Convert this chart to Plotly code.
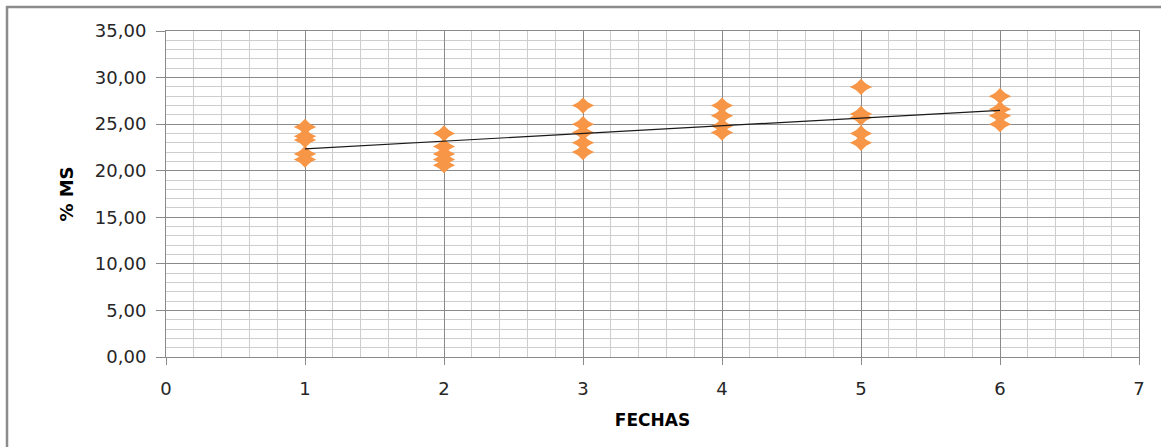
import numpy as np
import plotly.graph_objects as go

# sampled values (% MS) per fecha
fechas = [1, 1, 1, 1, 1,
          2, 2, 2, 2, 2,
          3, 3, 3, 3, 3,
          4, 4, 4, 4,
          5, 5, 5, 5, 5,
          6, 6, 6, 6]
ms_values = [24.7, 23.7, 23.3, 21.8, 21.2,
             24.0, 22.6, 21.8, 21.2, 20.6,
             27.0, 25.0, 24.1, 23.0, 22.0,
             27.0, 25.9, 24.8, 24.1,
             29.0, 26.1, 25.7, 24.0, 23.0,
             28.0, 26.6, 25.9, 25.0]

y_ticks = [0, 5, 10, 15, 20, 25, 30, 35]
x_ticks = [0, 1, 2, 3, 4, 5, 6, 7]

# linear trendline (Excel style), drawn over the data span
slope, intercept = np.polyfit(fechas, ms_values, 1)
trend_x = [min(fechas), max(fechas)]
trend_y = [slope * x + intercept for x in trend_x]

fig = go.Figure()

# Excel's diamond is wider than tall: overlay a wide and a square diamond
for sym, sz in [('diamond-wide', 16), ('diamond', 12.5)]:
    fig.add_trace(go.Scatter(
        x=fechas, y=ms_values, mode='markers',
        marker=dict(symbol=sym, size=sz, color='#F79646', line=dict(width=0)),
        showlegend=False
    ))

fig.add_trace(go.Scatter(
    x=trend_x, y=trend_y, mode='lines',
    line=dict(color='#1a1a1a', width=1.2),
    showlegend=False
))

tick_font = dict(family='DejaVu Sans', size=18, color='#262626')
title_font = dict(family='DejaVu Sans', size=17, color='black')

fig.update_xaxes(
    range=[0, 7], tickvals=x_ticks, tickformat='d',
    showgrid=True, gridcolor='#8a8a8a', gridwidth=1,
    minor=dict(dtick=0.2, showgrid=True, gridcolor='#cdcdcd', gridwidth=1),
    showline=True, linecolor='#8a8a8a', mirror=True,
    ticks='outside', ticklen=7, tickcolor='#8a8a8a',
    tickfont=tick_font, zeroline=False, ticklabelstandoff=8,
    title=dict(text='<b>FECHAS</b>', font=title_font, standoff=16)
)
fig.update_yaxes(
    range=[0, 35], tickvals=y_ticks, tickformat='.2f',
    showgrid=True, gridcolor='#8a8a8a', gridwidth=1,
    minor=dict(dtick=1, showgrid=True, gridcolor='#cdcdcd', gridwidth=1),
    showline=True, linecolor='#8a8a8a', mirror=True,
    ticks='outside', ticklen=9, tickcolor='#8a8a8a',
    tickfont=tick_font, zeroline=False, ticklabelstandoff=6,
    title=dict(text='<b>% MS</b>', font=dict(family='DejaVu Sans', size=18, color='black'),
               standoff=16)
)

# outer chart border
fig.add_shape(type='rect', xref='paper', yref='paper',
              x0=-0.1634, x1=1.03, y0=-0.3, y1=1.0736,
              line=dict(color='#8c8c8c', width=2.5), fillcolor='rgba(0,0,0,0)',
              layer='below')

fig.update_layout(
    width=1161, height=447,
    margin=dict(l=166, r=22, t=31, b=90),
    separators=',.',
    plot_bgcolor='white', paper_bgcolor='white',
    showlegend=False
)

fig.write_html("out.html", config={'displayModeBar': False},
               post_script="document.body.style.margin='0px';")
